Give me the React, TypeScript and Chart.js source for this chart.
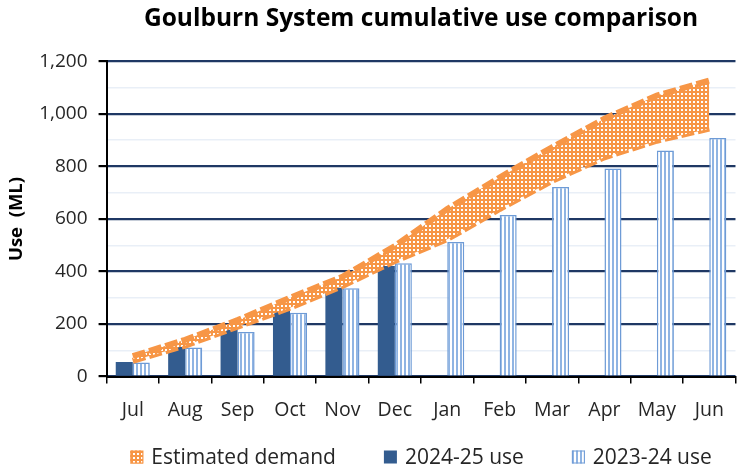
import React, { useEffect, useRef } from "react";
import { Chart, registerables } from "chart.js";

Chart.register(...registerables);

const months = ["Jul", "Aug", "Sep", "Oct", "Nov", "Dec", "Jan", "Feb", "Mar", "Apr", "May", "Jun"];
const use2425: (number | null)[] = [56, 113, 186, 253, 338, 421, null, null, null, null, null, null];
const use2324 = [54, 111, 170, 243, 336, 432, 512, 615, 722, 792, 861, 908];
const demandUpper = [78, 140, 215, 300, 380, 497, 638, 758, 873, 982, 1070, 1127];
const demandLower = [60, 118, 190, 262, 345, 440, 523, 638, 745, 835, 898, 944];
const yTickValues = [0, 200, 400, 600, 800, 1000, 1200];
const legendLabels = ["Estimated demand", "2024-25 use", "2023-24 use"];

const FONT = "'Open Sans', sans-serif";
const ORANGE = "#F79646";
const NAVY = "#1F3864";
const DARK_BAR = "#335C8F";
const STRIPE_BORDER = "#6E9BD6";

function makeBandPattern(): CanvasPattern | string {
  const c = document.createElement("canvas");
  c.width = 4;
  c.height = 4;
  const g = c.getContext("2d");
  if (!g) return ORANGE;
  g.fillStyle = ORANGE;
  g.fillRect(0, 0, 4, 4);
  g.fillStyle = "#ffffff";
  g.fillRect(1, 1, 2, 2);
  return g.createPattern(c, "repeat") || ORANGE;
}

function makeStripePattern(): CanvasPattern | string {
  const c = document.createElement("canvas");
  c.width = 4;
  c.height = 4;
  const g = c.getContext("2d");
  if (!g) return "#9DC3E6";
  g.fillStyle = "#ffffff";
  g.fillRect(0, 0, 4, 4);
  g.fillStyle = "#8FB4E3";
  g.fillRect(0, 0, 2, 4);
  return g.createPattern(c, "repeat") || "#9DC3E6";
}

export default function App() {
  const ref = useRef<HTMLCanvasElement | null>(null);

  useEffect(() => {
    document.body.style.margin = "0";
    const canvas = ref.current;
    if (!canvas) return;
    const band = makeBandPattern();
    const stripes = makeStripePattern();

    const legendItems = [
      { text: legendLabels[0], fill: band, stroke: ORANGE, lw: 1 },
      { text: legendLabels[1], fill: DARK_BAR, stroke: DARK_BAR, lw: 0 },
      { text: legendLabels[2], fill: stripes, stroke: STRIPE_BORDER, lw: 1 },
    ];

    const customLegend = {
      id: "customLegend",
      afterDraw(chart: any) {
        const ctx = chart.ctx as CanvasRenderingContext2D;
        const area = chart.chartArea;
        const box = 13;
        const iconGap = 8;
        const itemGap = 48;
        ctx.save();
        ctx.font = `21px ${FONT}`;
        ctx.textBaseline = "middle";
        ctx.textAlign = "left";
        const widths = legendItems.map((it) => box + iconGap + ctx.measureText(it.text).width);
        const total = widths.reduce((a, b) => a + b, 0) + itemGap * (legendItems.length - 1);
        let x = (area.left + area.right) / 2 - total / 2;
        const y = chart.height - 14;
        legendItems.forEach((it, i) => {
          ctx.fillStyle = it.fill as any;
          ctx.fillRect(x, y - box / 2, box, box);
          if (it.lw > 0) {
            ctx.strokeStyle = it.stroke;
            ctx.lineWidth = it.lw;
            ctx.strokeRect(x + 0.5, y - box / 2 + 0.5, box - 1, box - 1);
          }
          ctx.fillStyle = "#262626";
          ctx.fillText(it.text, x + box + iconGap, y + 1);
          x += widths[i] + itemGap;
        });
        ctx.restore();
      },
    };

    const chart = new Chart(canvas, {
      type: "bar",
      data: {
        labels: months,
        datasets: [
          {
            type: "line",
            label: legendLabels[0],
            data: demandUpper,
            borderColor: ORANGE,
            borderWidth: 6,
            borderDash: [13, 4],
            backgroundColor: band as any,
            fill: "+1",
            pointRadius: 0,
            tension: 0,
            order: 0,
          } as any,
          {
            type: "line",
            label: "lower",
            data: demandLower,
            borderColor: ORANGE,
            borderWidth: 6,
            borderDash: [13, 4],
            fill: false,
            pointRadius: 0,
            tension: 0,
            order: 0,
          } as any,
          {
            type: "bar",
            label: legendLabels[1],
            data: use2425,
            backgroundColor: DARK_BAR,
            borderColor: DARK_BAR,
            borderWidth: 0,
            categoryPercentage: 0.65,
            barPercentage: 1.0,
            order: 1,
          } as any,
          {
            type: "bar",
            label: legendLabels[2],
            data: use2324,
            backgroundColor: stripes as any,
            borderColor: STRIPE_BORDER,
            borderWidth: 1.5,
            categoryPercentage: 0.65,
            barPercentage: 1.0,
            order: 1,
          } as any,
        ],
      },
      options: {
        animation: false,
        responsive: false,
        maintainAspectRatio: false,
        layout: { padding: { left: 6, right: 0, top: 4, bottom: 34 } },
        plugins: {
          tooltip: { enabled: false },
          legend: { display: false },
          title: {
            display: true,
            text: "Goulburn System cumulative use comparison",
            fullSize: false,
            color: "#000000",
            font: { family: FONT, size: 24.5, weight: "bold", lineHeight: 1.2 },
            padding: { top: 0, bottom: 28 },
          },
        },
        scales: {
          x: {
            type: "category",
            grid: {
              display: true,
              drawOnChartArea: false,
              drawTicks: true,
              offset: true,
              tickLength: 7,
              color: "#000000",
              lineWidth: 1.5,
            },
            border: { display: true, color: "#000000", width: 2 },
            ticks: {
              color: "#262626",
              font: { family: FONT, size: 19.5 },
              padding: 15,
              maxRotation: 0,
            },
          },
          y: {
            min: 0,
            max: 1200,
            ticks: {
              stepSize: 100,
              color: "#262626",
              font: { family: FONT, size: 19 },
              padding: 11,
              callback: (v: any) => (yTickValues.includes(Number(v)) ? Number(v).toLocaleString("en-US") : ""),
            },
            grid: {
              drawTicks: true,
              tickLength: 8,
              color: (ctx: any) => (ctx.tick && ctx.tick.value % 200 === 0 ? NAVY : "#E9EFF7"),
              lineWidth: (ctx: any) => (ctx.tick && ctx.tick.value % 200 === 0 ? 2.2 : 1.5),
              tickColor: (ctx: any) => (ctx.tick && ctx.tick.value % 200 === 0 ? "#000000" : "rgba(0,0,0,0)"),
            },
            border: { display: true, color: "#000000", width: 2 },
            title: {
              display: true,
              text: "Use  (ML)",
              color: "#000000",
              font: { family: FONT, size: 18.5, weight: "bold" },
              padding: { top: 0, bottom: 0 },
            },
          },
        },
      },
      plugins: [customLegend],
    });
    return () => chart.destroy();
  }, []);

  return (
    <div style={{ width: 739, height: 471 }}>
      <canvas ref={ref} width={739} height={471} style={{ display: "block", width: 739, height: 471 }} />
    </div>
  );
}
